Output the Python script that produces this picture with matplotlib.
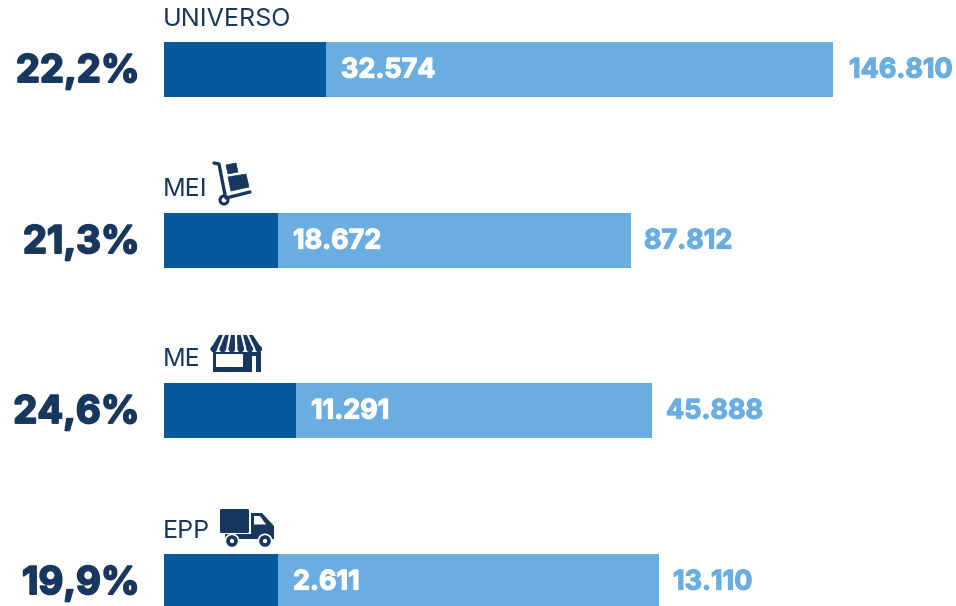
import matplotlib
matplotlib.use("Agg")
import matplotlib.pyplot as plt
import matplotlib.patheffects as pe
from matplotlib.patches import Polygon, Circle, Rectangle, FancyBboxPatch

plt.rcParams['font.family'] = ['Inter', 'DejaVu Sans']

categories = ["UNIVERSO", "MEI", "ME", "EPP"]
percent_labels = ["22,2%", "21,3%", "24,6%", "19,9%"]
part_labels = ["32.574", "18.672", "11.291", "2.611"]
total_labels = ["146.810", "87.812", "45.888", "13.110"]
# bars in the original are not to scale, lengths read off the picture
dark_len = [162, 114, 132, 114]
light_len = [507, 353, 356, 381]

NAVY = "#17375e"
DARK = "#045a9a"
LIGHT = "#6aade1"

fig = plt.figure(figsize=(9.56, 6.06), dpi=100)
ax = fig.add_axes([0, 0, 1, 1])
ax.set_xlim(0, 956)
ax.set_ylim(606, 0)
ax.axis("off")

x0 = 164
bar_y = [69.5, 240.5, 410.5, 581.5]
total_gap = [16, 13, 14, 14]
ax.barh(bar_y, dark_len, left=x0, height=55, color=DARK, linewidth=0)
ax.barh(bar_y, light_len, left=[x0 + d for d in dark_len], height=55, color=LIGHT, linewidth=0)


def heavy(color, w):
    return [pe.withStroke(linewidth=w, foreground=color)]


for i in range(4):
    y = bar_y[i]
    ax.text(139.5, y + 2.5, percent_labels[i], ha="right", va="center", color=NAVY,
            fontsize=27.5, fontweight="bold", path_effects=heavy(NAVY, 1.4))
    ax.text(x0 + dark_len[i] + 15, y + 1, part_labels[i], ha="left", va="center",
            color="white", fontsize=19.4, fontweight="bold", path_effects=heavy("white", 0.9))
    ax.text(x0 + dark_len[i] + light_len[i] + total_gap[i], y + 1, total_labels[i], ha="left", va="center",
            color=LIGHT, fontsize=19.4, fontweight="bold", path_effects=heavy(LIGHT, 0.9))
    ax.text(x0 - 1, y - 50.5, categories[i], ha="left", va="center", color=NAVY, fontsize=18)


def trolley():
    ax.plot([214, 219, 225], [163, 164, 195], color=NAVY, lw=2.4, solid_capstyle="round")
    ax.plot([226, 250], [198, 192], color=NAVY, lw=2.4, solid_capstyle="round")
    ax.add_patch(Polygon([(226, 165), (236, 163), (238, 172), (228, 174)], color=NAVY, lw=0.5))
    ax.add_patch(Polygon([(228, 177), (246, 174), (249, 187), (231, 191)], color=NAVY, lw=0.5))
    ax.add_patch(Circle((224, 200), 4, fc="white", ec=NAVY, lw=2.2))


def store():
    ax.add_patch(Rectangle((213, 352), 48, 20, color=NAVY, lw=0))
    ax.add_patch(Rectangle((216, 354), 27, 13, color="white", lw=0))
    ax.add_patch(Rectangle((252, 356), 4, 16, color="white", lw=0))
    top = [219, 225, 231, 237, 243, 249]
    bot = [210.5, 219.5, 228.5, 237.5, 246.5, 255.5]
    for j in range(6):
        ax.add_patch(Polygon([(top[j], 335), (top[j] + 3.8, 335), (bot[j] + 6.6, 349), (bot[j], 349)],
                             color=NAVY, lw=0))
        ax.add_patch(Circle((bot[j] + 3.3, 349), 3.3, color=NAVY, lw=0))


def truck():
    ax.add_patch(FancyBboxPatch((220, 509), 29, 24, boxstyle="round,pad=0,rounding_size=1.5",
                                color=NAVY, lw=0))
    ax.add_patch(Polygon([(251, 513), (262, 513), (274, 526), (274, 539), (251, 539)], color=NAVY, lw=0))
    ax.add_patch(Rectangle((225, 534), 27, 5, color=NAVY, lw=0))
    ax.add_patch(Polygon([(254, 516), (260, 516), (266, 524.5), (254, 524.5)], color="white", lw=0))
    for cx in [232, 265]:
        ax.add_patch(Circle((cx, 541), 7.5, color="white", lw=0))
        ax.add_patch(Circle((cx, 541), 4, fc="white", ec=NAVY, lw=2.6))


trolley()
store()
truck()

fig.savefig("out.png", dpi=100)
